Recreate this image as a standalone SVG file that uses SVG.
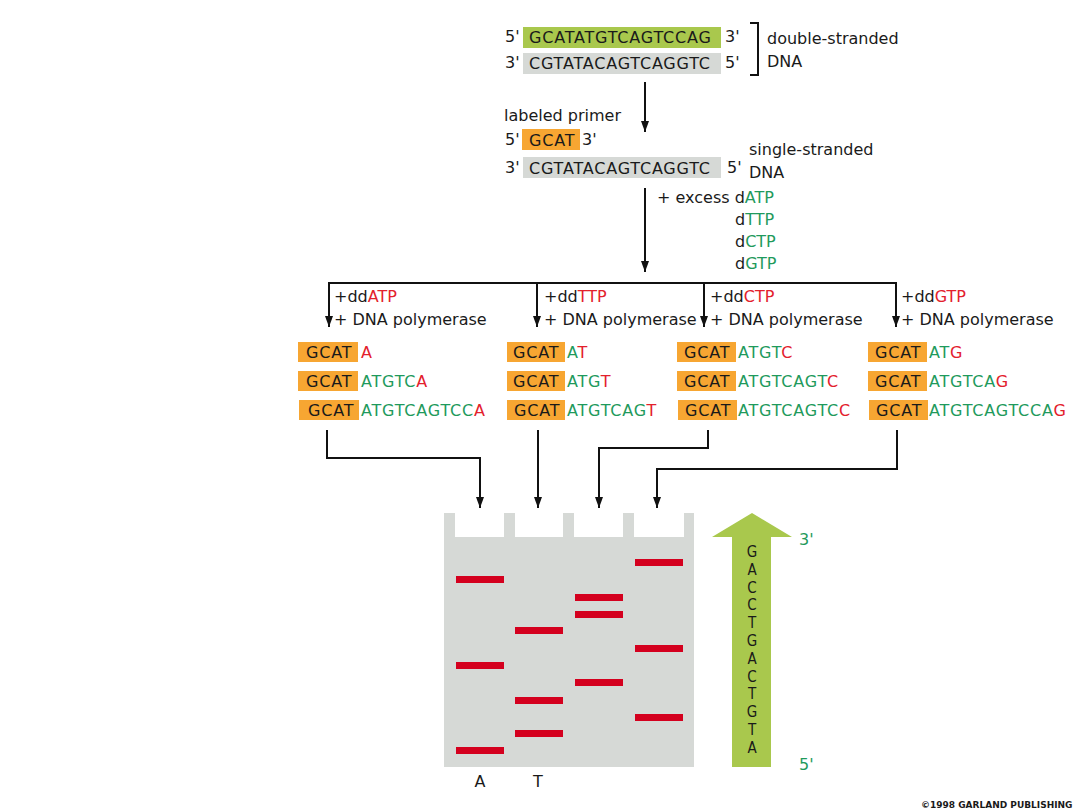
<svg xmlns="http://www.w3.org/2000/svg" width="1080" height="810" viewBox="0 0 1080 810">
<style>
text { font-family: "DejaVu Sans", "Liberation Sans", sans-serif; font-size: 16px; fill: #1a1a1a; }
.seq { letter-spacing: 0.8px; }
.g { fill: #1f9a5c; }
.r { fill: #e3202c; }
.ln { fill: none; stroke: #111; stroke-width: 2; }
.org { fill: #f7a632; }
.gry { fill: #d6d9d6; }
.grn { fill: #a9c84d; }
.band { fill: #d4001e; }
.vt { font-family: "DejaVu Sans Condensed", "DejaVu Sans", sans-serif; font-size: 15px; text-anchor: middle; }
.copy { font-family: "DejaVu Sans", sans-serif; font-size: 9px; font-weight: bold; }
</style>
<defs>
<marker id="ahd" markerUnits="userSpaceOnUse" markerWidth="11" markerHeight="8" refX="11" refY="4" orient="auto" viewBox="0 0 11 8">
<path d="M0,0 L11,4 L0,8 z" fill="#111"/>
</marker>
</defs>
<rect width="1080" height="810" fill="#fff"/>

<g id="double-stranded">
<rect class="grn" x="523" y="27" width="198" height="21"/>
<rect class="gry" x="523" y="53" width="198" height="21"/>
<text x="505" y="42">5'</text>
<text class="seq" x="529" y="43">GCATATGTCAGTCCAG</text>
<text x="725" y="42">3'</text>
<text x="505" y="68">3'</text>
<text class="seq" x="529" y="69">CGTATACAGTCAGGTC</text>
<text x="725" y="68">5'</text>
<path class="ln" d="M750,23 H758 V75 H750" stroke-width="1.5"/>
<text x="767" y="44">double-stranded</text>
<text x="767" y="67">DNA</text>
</g>

<g id="single-stranded">
<text x="504" y="121">labeled primer</text>
<rect class="org" x="522" y="129" width="58" height="21"/>
<text x="505" y="145">5'</text>
<text class="seq" x="529" y="146">GCAT</text>
<text x="582" y="145">3'</text>
<rect class="gry" x="523" y="157" width="198" height="21"/>
<text x="505" y="173">3'</text>
<text class="seq" x="529" y="174">CGTATACAGTCAGGTC</text>
<text x="727" y="173">5'</text>
<text x="749" y="155">single-stranded</text>
<text x="749" y="178">DNA</text>
</g>

<g id="dntps">
<text x="657" y="203">+ excess d<tspan class="g">ATP</tspan></text>
<text x="735" y="225">d<tspan class="g">TTP</tspan></text>
<text x="735" y="247">d<tspan class="g">CTP</tspan></text>
<text x="735" y="269">d<tspan class="g">GTP</tspan></text>
</g>

<g id="connectors">
<path class="ln" d="M645,82 V132" marker-end="url(#ahd)"/>
<path class="ln" d="M645,188 V272" marker-end="url(#ahd)"/>
<path class="ln" d="M329,283 H897"/>
<path class="ln" d="M329,282 V327" marker-end="url(#ahd)"/>
<path class="ln" d="M537,283 V327" marker-end="url(#ahd)"/>
<path class="ln" d="M704,283 V327" marker-end="url(#ahd)"/>
<path class="ln" d="M896,282 V327" marker-end="url(#ahd)"/>
<path class="ln" d="M327,430 V458 H480 V508" marker-end="url(#ahd)"/>
<path class="ln" d="M538,430 V508" marker-end="url(#ahd)"/>
<path class="ln" d="M708,430 V448 H599 V508" marker-end="url(#ahd)"/>
<path class="ln" d="M897,430 V469 H657 V508" marker-end="url(#ahd)"/>
</g>

<g id="branch-A">
<text x="334" y="302">+dd<tspan class="r">ATP</tspan></text>
<text x="334" y="325">+ DNA polymerase</text>
<rect class="org" x="298" y="342" width="60" height="20"/>
<rect class="org" x="298" y="371" width="60" height="20"/>
<rect class="org" x="299" y="400" width="60" height="20"/>
<text class="seq" x="306" y="358">GCAT</text>
<text class="seq" x="306" y="387">GCAT</text>
<text class="seq" x="308" y="416">GCAT</text>
<text class="seq" x="361" y="358"><tspan class="r">A</tspan></text>
<text class="seq" x="361" y="387"><tspan class="g">ATGTC</tspan><tspan class="r">A</tspan></text>
<text class="seq" x="361" y="416"><tspan class="g">ATGTCAGTCC</tspan><tspan class="r">A</tspan></text>
</g>

<g id="branch-T">
<text x="544" y="302">+dd<tspan class="r">TTP</tspan></text>
<text x="544" y="325">+ DNA polymerase</text>
<rect class="org" x="507" y="342" width="58" height="20"/>
<rect class="org" x="507" y="371" width="58" height="20"/>
<rect class="org" x="507" y="400" width="58" height="20"/>
<text class="seq" x="513" y="358">GCAT</text>
<text class="seq" x="513" y="387">GCAT</text>
<text class="seq" x="514" y="416">GCAT</text>
<text class="seq" x="567" y="358"><tspan class="g">A</tspan><tspan class="r">T</tspan></text>
<text class="seq" x="567" y="387"><tspan class="g">ATG</tspan><tspan class="r">T</tspan></text>
<text class="seq" x="567" y="416"><tspan class="g">ATGTCAG</tspan><tspan class="r">T</tspan></text>
</g>

<g id="branch-C">
<text x="710" y="302">+dd<tspan class="r">CTP</tspan></text>
<text x="710" y="325">+ DNA polymerase</text>
<rect class="org" x="677" y="342" width="59" height="20"/>
<rect class="org" x="677" y="371" width="59" height="20"/>
<rect class="org" x="678" y="400" width="59" height="20"/>
<text class="seq" x="684" y="358">GCAT</text>
<text class="seq" x="684" y="387">GCAT</text>
<text class="seq" x="685" y="416">GCAT</text>
<text class="seq" x="738" y="358"><tspan class="g">ATGT</tspan><tspan class="r">C</tspan></text>
<text class="seq" x="738" y="387"><tspan class="g">ATGTCAGT</tspan><tspan class="r">C</tspan></text>
<text class="seq" x="738" y="416"><tspan class="g">ATGTCAGTC</tspan><tspan class="r">C</tspan></text>
</g>

<g id="branch-G">
<text x="901" y="302">+dd<tspan class="r">GTP</tspan></text>
<text x="901" y="325">+ DNA polymerase</text>
<rect class="org" x="868" y="342" width="59" height="20"/>
<rect class="org" x="868" y="371" width="59" height="20"/>
<rect class="org" x="869" y="400" width="59" height="20"/>
<text class="seq" x="875" y="358">GCAT</text>
<text class="seq" x="875" y="387">GCAT</text>
<text class="seq" x="876" y="416">GCAT</text>
<text class="seq" x="929" y="358"><tspan class="g">AT</tspan><tspan class="r">G</tspan></text>
<text class="seq" x="929" y="387"><tspan class="g">ATGTCA</tspan><tspan class="r">G</tspan></text>
<text class="seq" x="929" y="416"><tspan class="g">ATGTCAGTCCA</tspan><tspan class="r">G</tspan></text>
</g>

<g id="gel">
<rect class="gry" x="444" y="513" width="250" height="254"/>
<rect x="455" y="513" width="49" height="24" fill="#fff"/>
<rect x="515" y="513" width="48" height="24" fill="#fff"/>
<rect x="574" y="513" width="49" height="24" fill="#fff"/>
<rect x="634" y="513" width="50" height="24" fill="#fff"/>
<rect class="band" x="456" y="576" width="48" height="7"/>
<rect class="band" x="456" y="662" width="48" height="7"/>
<rect class="band" x="456" y="747" width="48" height="7"/>
<rect class="band" x="515" y="627" width="48" height="7"/>
<rect class="band" x="515" y="697" width="48" height="7"/>
<rect class="band" x="515" y="730" width="48" height="7"/>
<rect class="band" x="575" y="594" width="48" height="7"/>
<rect class="band" x="575" y="611" width="48" height="7"/>
<rect class="band" x="575" y="679" width="48" height="7"/>
<rect class="band" x="635" y="559" width="48" height="7"/>
<rect class="band" x="635" y="645" width="48" height="7"/>
<rect class="band" x="635" y="714" width="48" height="7"/>
<text x="480" y="787" text-anchor="middle">A</text>
<text x="538" y="787" text-anchor="middle">T</text>
</g>

<g id="sequence-arrow">
<polygon class="grn" points="752,513 792,537 771,537 771,767 732,767 732,537 712,537"/>
<text class="vt" x="752" y="557">G</text>
<text class="vt" x="752" y="575">A</text>
<text class="vt" x="752" y="593">C</text>
<text class="vt" x="752" y="610">C</text>
<text class="vt" x="752" y="628">T</text>
<text class="vt" x="752" y="646">G</text>
<text class="vt" x="752" y="664">A</text>
<text class="vt" x="752" y="682">C</text>
<text class="vt" x="752" y="699">T</text>
<text class="vt" x="752" y="717">G</text>
<text class="vt" x="752" y="735">T</text>
<text class="vt" x="752" y="753">A</text>
<text class="g" x="799" y="545">3'</text>
<text class="g" x="799" y="770">5'</text>
</g>

<text class="copy" x="921" y="808">©1998 GARLAND PUBLISHING</text>
</svg>
